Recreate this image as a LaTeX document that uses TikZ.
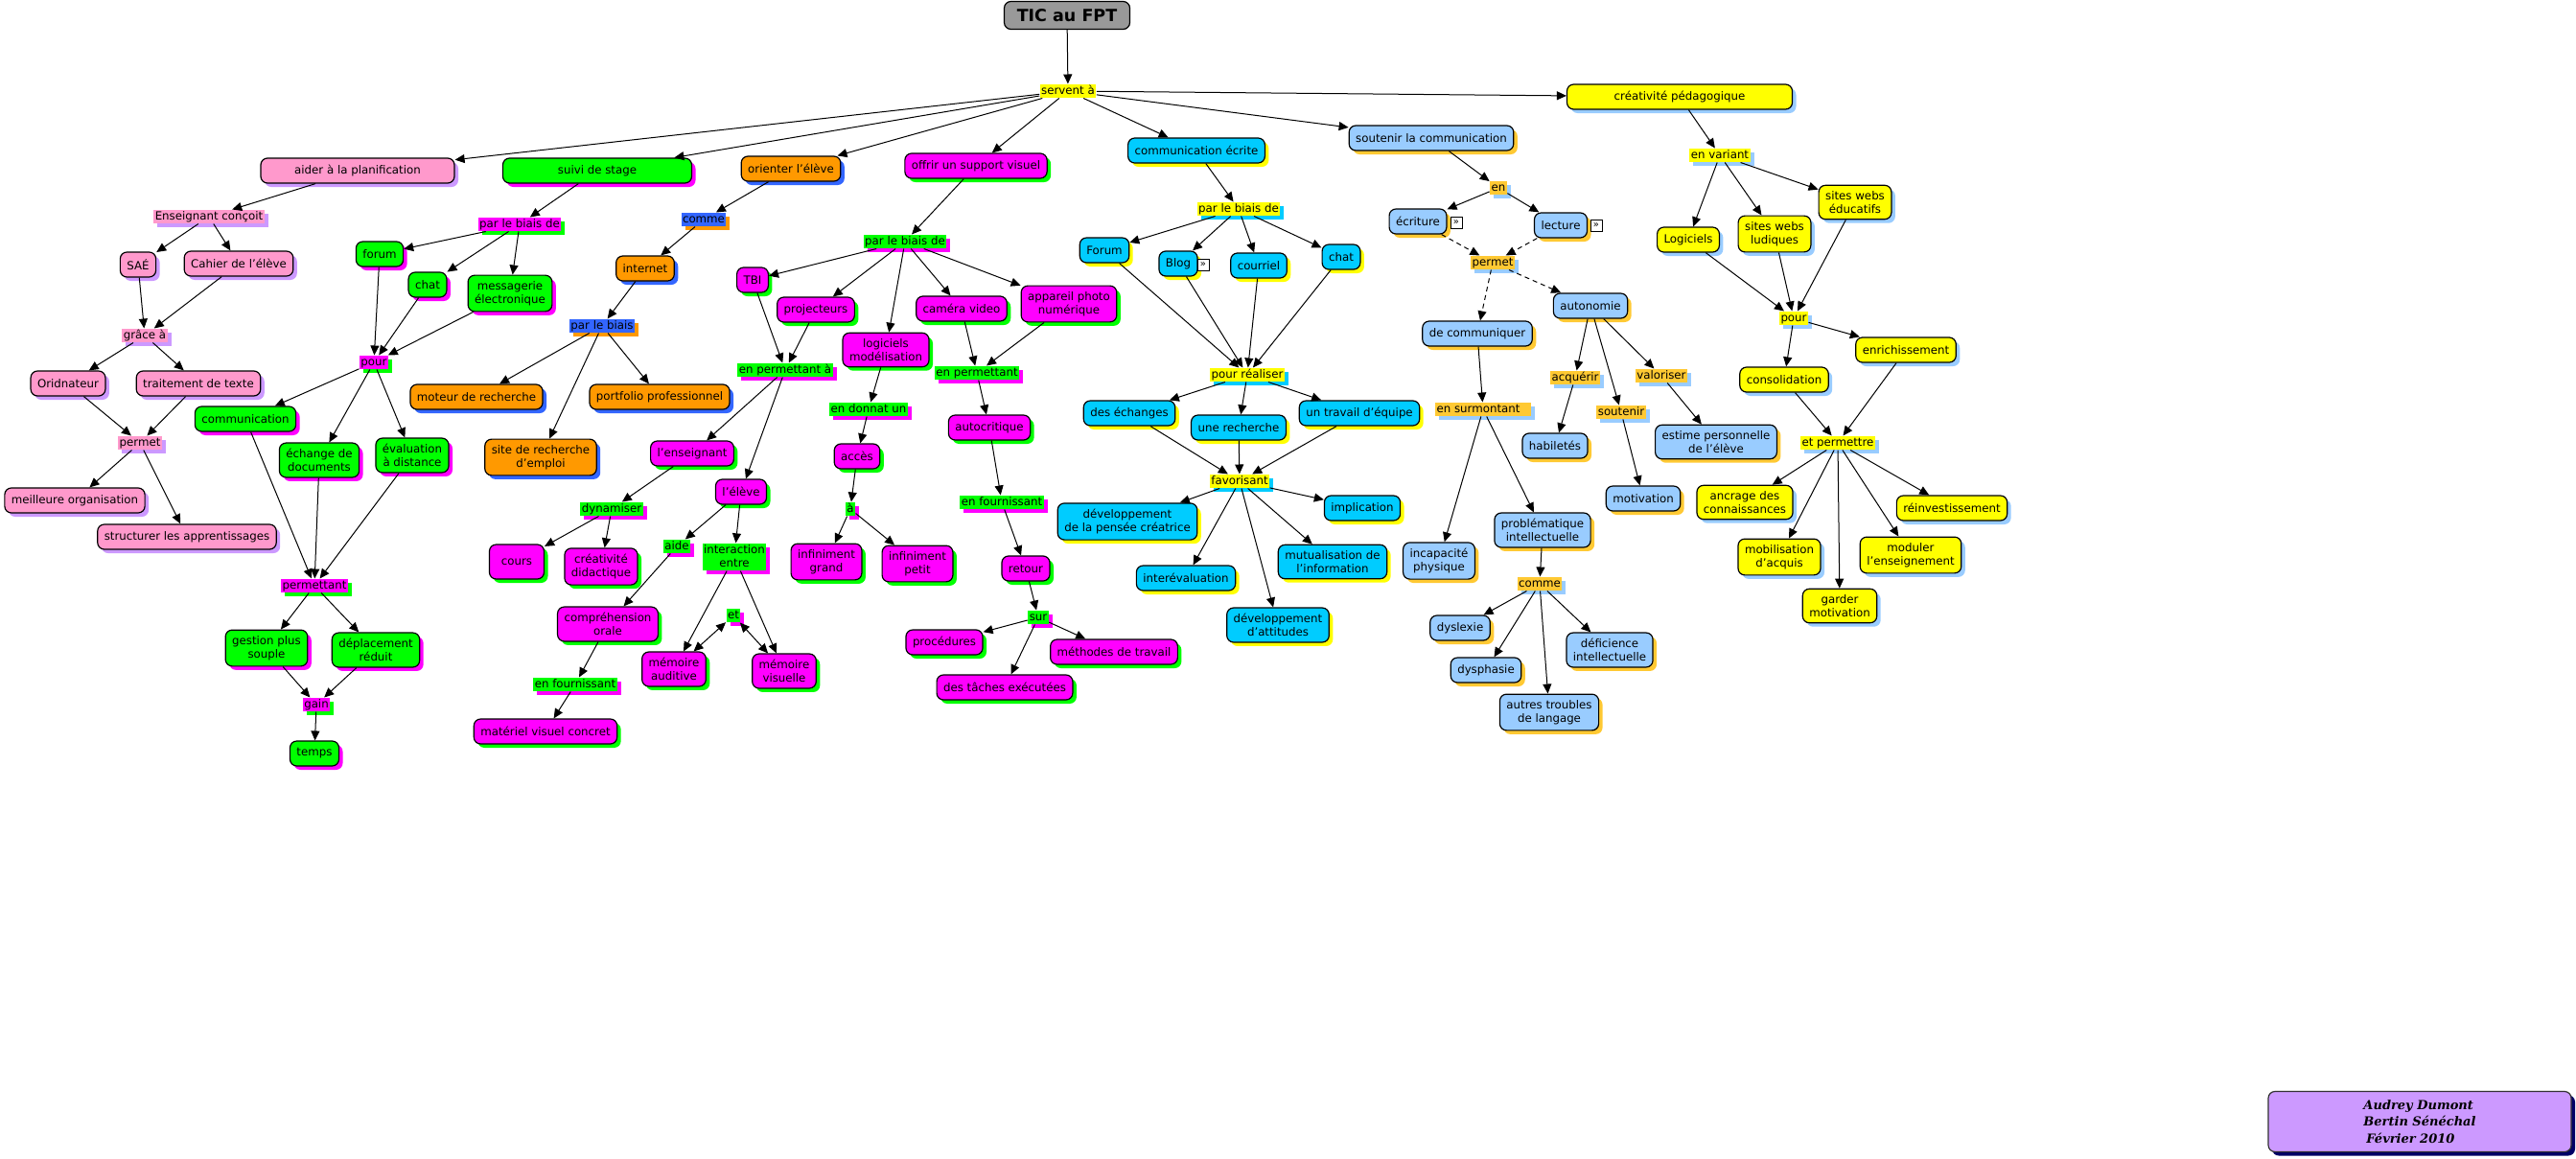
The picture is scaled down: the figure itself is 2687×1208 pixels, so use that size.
\documentclass[tikz,border=0pt]{standalone}
\usepackage{fontspec}
\setmainfont{DejaVu Sans}
\newfontfamily\creditfont{DejaVu Serif}
\usepackage{tikz}
\usetikzlibrary{arrows.meta, shadows}

\definecolor{pinkc}{HTML}{FF99CC}
\definecolor{lavc}{HTML}{CC99FF}
\definecolor{greenc}{HTML}{00FF00}
\definecolor{magc}{HTML}{FF00FF}
\definecolor{orangec}{HTML}{FF9900}
\definecolor{royalc}{HTML}{3366FF}
\definecolor{cyanc}{HTML}{00CCFF}
\definecolor{yellowc}{HTML}{FFFF00}
\definecolor{lbluec}{HTML}{99CCFF}
\definecolor{goldc}{HTML}{FFC933}
\definecolor{grayc}{HTML}{999999}
\definecolor{navyc}{HTML}{000066}

\tikzset{
  shad/.style={drop shadow={shadow xshift=4pt, shadow yshift=-4pt, fill=#1, opacity=1}},
  concept/.style={draw, line width=1.2pt, rounded corners=7pt, align=center,
                  inner xsep=7pt, inner ysep=6pt, minimum height=26pt},
  pk/.style={concept, fill=pinkc, shad=lavc},
  gr/.style={concept, fill=greenc, shad=magc},
  orn/.style={concept, fill=orangec, shad=royalc},
  mg/.style={concept, fill=magc, shad=greenc},
  cy/.style={concept, fill=cyanc, shad=yellowc},
  lb/.style={concept, fill=lbluec, shad=goldc},
  ye/.style={concept, fill=yellowc, shad=lbluec},
  link/.style={align=center, inner xsep=1.5pt, inner ysep=1pt,
               text height=9.5pt, text depth=2.5pt},
  lpk/.style={link, fill=pinkc, shad=lavc},
  lmg/.style={link, fill=magc, shad=greenc},
  lbl/.style={link, fill=royalc, shad=orangec},
  lgr/.style={link, fill=greenc, shad=magc},
  lye/.style={link, fill=yellowc, shad=cyanc},
  lgd/.style={link, fill=goldc, shad=lbluec},
  lyb/.style={link, fill=yellowc, shad=lbluec},
  res/.style={draw, line width=0.8pt, fill=white, inner sep=0pt,
              minimum width=12pt, minimum height=12pt, font=\fontsize{10}{10}\selectfont},
  dash link/.style={->, dash pattern=on 5pt off 4pt}
}

\begin{document}
\begin{tikzpicture}[x=1pt, y=-1pt, line width=1pt,
    font=\fontsize{11.8}{14.3}\selectfont,
    >={Triangle[length=10pt, width=9pt]}]
  \useasboundingbox (0,0) rectangle (2687,1208);

  % root
  \node[draw, line width=1.2pt, rounded corners=7pt, fill=grayc,
        minimum width=131pt, minimum height=29pt,
        font=\fontsize{17.5}{20}\selectfont\bfseries] (tic) at (1113,16) {TIC au FPT};
  \node[link, fill=yellowc] (servent) at (1114,95) {servent à};

  % planification
  \node[pk, minimum width=202pt] (plan) at (373,178) {aider à la planification};
  \node[lpk] (conc) at (218,226) {Enseignant conçoit};
  \node[pk] (sae) at (144,276) {SAÉ};
  \node[pk] (cahier) at (249,275) {Cahier de l'élève};
  \node[lpk] (grace) at (151,350) {grâce à};
  \node[pk] (ordi) at (71,400) {Oridnateur};
  \node[pk] (texte) at (207,400) {traitement de texte};
  \node[lpk] (permetA) at (146,462) {permet};
  \node[pk] (organis) at (78,522) {meilleure organisation};
  \node[pk] (structur) at (195,560) {structurer les apprentissages};

  % suivi de stage
  \node[gr, minimum width=197pt] (suivi) at (623,178) {suivi de stage};
  \node[lmg] (biaisA) at (542,234) {par le biais de};
  \node[gr] (forumA) at (396,265) {forum};
  \node[gr] (chatA) at (446,297) {chat};
  \node[gr] (messag) at (532,306) {messagerie\\électronique};
  \node[lmg] (pourA) at (390,378) {pour};
  \node[gr] (commun) at (256,437) {communication};
  \node[gr] (echdoc) at (333,480) {échange de\\documents};
  \node[gr] (evaldist) at (430,475) {évaluation\\à distance};
  \node[lmg] (permettant) at (328,611) {permettant};
  \node[gr] (gestion) at (278,676) {gestion plus\\souple};
  \node[gr] (deplac) at (392,678) {déplacement\\réduit};
  \node[lmg] (gain) at (330,735) {gain};
  \node[gr] (temps) at (328,786) {temps};

  % orienter
  \node[orn] (orient) at (825,176) {orienter l'élève};
  \node[lbl] (commeA) at (734,229) {comme};
  \node[orn] (internet) at (673,280) {internet};
  \node[lbl] (biaisB) at (628,340) {par le biais};
  \node[orn] (moteur) at (497,414) {moteur de recherche};
  \node[orn] (emploi) at (564,477) {site de recherche\\d'emploi};
  \node[orn] (portfolio) at (688,414) {portfolio professionnel};

  % support visuel
  \node[mg] (visuel) at (1018,173) {offrir un support visuel};
  \node[lgr] (biaisC) at (944,252) {par le biais de};
  \node[mg] (tbi) at (785,292) {TBI};
  \node[mg] (proj) at (851,323) {projecteurs};
  \node[mg] (modelis) at (924,365) {logiciels\\modélisation};
  \node[mg] (camera) at (1003,322) {caméra video};
  \node[mg] (photo) at (1115,317) {appareil photo\\numérique};
  \node[lgr] (permA) at (819,386) {en permettant à};
  \node[mg] (enseign) at (722,473) {l'enseignant};
  \node[lgr] (dynam) at (638,531) {dynamiser};
  \node[mg, minimum width=57pt, minimum height=36pt] (cours) at (539,586) {cours};
  \node[mg] (creadid) at (627,591) {créativité\\didactique};
  \node[mg] (eleve) at (773,513) {l'élève};
  \node[lgr] (aide) at (706,570) {aide};
  \node[lgr, text height=23.8pt, text depth=2.5pt] (interact) at (766,581) {interaction\\entre};
  \node[mg] (comprehen) at (634,651) {compréhension\\orale};
  \node[lgr] (fourniA) at (600,714) {en fournissant};
  \node[mg] (materiel) at (569,763) {matériel visuel concret};
  \node[lgr] (etA) at (765,642) {et};
  \node[mg] (auditive) at (703,698) {mémoire\\auditive};
  \node[mg] (visuelle) at (818,700) {mémoire\\visuelle};
  \node[lgr] (donnat) at (906,427) {en donnat un};
  \node[mg] (acces) at (894,476) {accès};
  \node[lgr] (aA) at (887,531) {à};
  \node[mg] (grand) at (862,586) {infiniment\\grand};
  \node[mg] (petit) at (957,588) {infiniment\\petit};
  \node[lgr] (permB) at (1019,389) {en permettant};
  \node[mg] (autocrit) at (1032,446) {autocritique};
  \node[lgr] (fourniB) at (1045,524) {en fournissant};
  \node[mg] (retour) at (1070,593) {retour};
  \node[lgr] (sur) at (1083,644) {sur};
  \node[mg] (proced) at (985,670) {procédures};
  \node[mg] (methodes) at (1162,680) {méthodes de travail};
  \node[mg] (taches) at (1048,717) {des tâches exécutées};

  % communication ecrite
  \node[cy] (ecrite) at (1248,157) {communication écrite};
  \node[lye] (biaisD) at (1292,218) {par le biais de};
  \node[cy] (forumB) at (1152,261) {Forum};
  \node[cy] (blog) at (1229,275) {Blog};
  \node[res] (blogres) at (1255,276) {»};
  \node[cy] (courriel) at (1313,277) {courriel};
  \node[cy] (chatB) at (1399,268) {chat};
  \node[lye] (realiser) at (1301,391) {pour réaliser};
  \node[cy] (echanges) at (1178,431) {des échanges};
  \node[cy] (recherche) at (1292,446) {une recherche};
  \node[cy] (equipe) at (1418,431) {un travail d'équipe};
  \node[lye] (favoris) at (1293,502) {favorisant};
  \node[cy] (pensee) at (1176,544) {développement\\de la pensée créatrice};
  \node[cy] (intereval) at (1237,603) {interévaluation};
  \node[cy] (attitudes) at (1333,652) {développement\\d'attitudes};
  \node[cy] (mutual) at (1390,586) {mutualisation de\\l'information};
  \node[cy] (implic) at (1421,530) {implication};

  % soutenir la communication
  \node[lb] (soutien) at (1493,144) {soutenir la communication};
  \node[lgd] (enA) at (1563,196) {en};
  \node[lb] (ecriture) at (1479,231) {écriture};
  \node[res] (ecrres) at (1519,232) {»};
  \node[lb] (lecture) at (1628,235) {lecture};
  \node[res] (lecres) at (1665,235) {»};
  \node[lgd] (permetB) at (1557,274) {permet};
  \node[lb] (autonom) at (1659,319) {autonomie};
  \node[lb] (communiq) at (1541,348) {de communiquer};
  \node[lgd] (acquerir) at (1643,394) {acquérir};
  \node[lgd] (soutL) at (1691,430) {soutenir};
  \node[lgd] (valoris) at (1733,392) {valoriser};
  \node[lb] (habil) at (1622,465) {habiletés};
  \node[lb] (motiv) at (1714,520) {motivation};
  \node[lb] (estime) at (1790,461) {estime personnelle\\de l'élève};
  \node[lgd] (surmont) at (1547,427) {en surmontant\hspace{10pt}};
  \node[lb] (incapac) at (1501,585) {incapacité\\physique};
  \node[lb] (problem) at (1609,553) {problématique\\intellectuelle};
  \node[lgd] (commeB) at (1606,609) {comme};
  \node[lb] (dyslex) at (1523,655) {dyslexie};
  \node[lb] (dysphas) at (1550,699) {dysphasie};
  \node[lb] (deficien) at (1679,678) {déficience\\intellectuelle};
  \node[lb] (troubles) at (1616,743) {autres troubles\\de langage};

  % creativite pedagogique
  \node[ye, minimum width=235pt] (creat) at (1752,101) {créativité pédagogique};
  \node[lyb] (variant) at (1794,162) {en variant};
  \node[ye] (logic) at (1761,250) {Logiciels};
  \node[ye] (ludiq) at (1851,244) {sites webs\\ludiques};
  \node[ye] (educat) at (1935,211) {sites webs\\éducatifs};
  \node[lyb] (pourB) at (1871,332) {pour};
  \node[ye] (consolid) at (1861,396) {consolidation};
  \node[ye] (enrich) at (1988,365) {enrichissement};
  \node[lyb] (etperm) at (1917,462) {et permettre};
  \node[ye] (ancrage) at (1820,524) {ancrage des\\connaissances};
  \node[ye] (mobilis) at (1856,581) {mobilisation\\d'acquis};
  \node[ye] (garder) at (1919,632) {garder\\motivation};
  \node[ye] (moduler) at (1993,579) {moduler\\l'enseignement};
  \node[ye] (reinvest) at (2036,530) {réinvestissement};

  % auteurs
  \node[draw=black!80, line width=1.2pt, rounded corners=7pt, fill=lavc, shad=navyc,
        minimum width=316pt, minimum height=63pt, align=left,
        font=\creditfont\fontsize{13}{17.5}\selectfont\bfseries\itshape] (credit)
        at (2524,1170) {Audrey Dumont\\Bertin Sénéchal\\\hspace{3pt}Février 2010};

  % liens
  \draw[->] (tic) -- (servent);
  \draw[->] (servent) -- (plan);
  \draw[->] (servent) -- (suivi);
  \draw[->] (servent) -- (orient);
  \draw[->] (servent) -- (visuel);
  \draw[->] (servent) -- (ecrite);
  \draw[->] (servent) -- (soutien);
  \draw[->] (servent) -- (creat);

  \draw[->] (plan) -- (conc);
  \draw[->] (conc) -- (sae);
  \draw[->] (conc) -- (cahier);
  \draw[->] (sae) -- (grace);
  \draw[->] (cahier) -- (grace);
  \draw[->] (grace) -- (ordi);
  \draw[->] (grace) -- (texte);
  \draw[->] (ordi) -- (permetA);
  \draw[->] (texte) -- (permetA);
  \draw[->] (permetA) -- (organis);
  \draw[->] (permetA) -- (structur);

  \draw[->] (suivi) -- (biaisA);
  \draw[->] (biaisA) -- (forumA);
  \draw[->] (biaisA) -- (chatA);
  \draw[->] (biaisA) -- (messag);
  \draw[->] (forumA) -- (pourA);
  \draw[->] (chatA) -- (pourA);
  \draw[->] (messag) -- (pourA);
  \draw[->] (pourA) -- (commun);
  \draw[->] (pourA) -- (echdoc);
  \draw[->] (pourA) -- (evaldist);
  \draw[->] (commun) -- (permettant);
  \draw[->] (echdoc) -- (permettant);
  \draw[->] (evaldist) -- (permettant);
  \draw[->] (permettant) -- (gestion);
  \draw[->] (permettant) -- (deplac);
  \draw[->] (gestion) -- (gain);
  \draw[->] (deplac) -- (gain);
  \draw[->] (gain) -- (temps);

  \draw[->] (orient) -- (commeA);
  \draw[->] (commeA) -- (internet);
  \draw[->] (internet) -- (biaisB);
  \draw[->] (biaisB) -- (moteur);
  \draw[->] (biaisB) -- (emploi);
  \draw[->] (biaisB) -- (portfolio);

  \draw[->] (visuel) -- (biaisC);
  \draw[->] (biaisC) -- (tbi);
  \draw[->] (biaisC) -- (proj);
  \draw[->] (biaisC) -- (modelis);
  \draw[->] (biaisC) -- (camera);
  \draw[->] (biaisC) -- (photo);
  \draw[->] (tbi) -- (permA);
  \draw[->] (proj) -- (permA);
  \draw[->] (permA) -- (enseign);
  \draw[->] (permA) -- (eleve);
  \draw[->] (enseign) -- (dynam);
  \draw[->] (dynam) -- (cours);
  \draw[->] (dynam) -- (creadid);
  \draw[->] (eleve) -- (aide);
  \draw[->] (eleve) -- (interact);
  \draw[->] (aide) -- (comprehen);
  \draw[->] (comprehen) -- (fourniA);
  \draw[->] (fourniA) -- (materiel);
  \draw[->] (interact) -- (auditive);
  \draw[->] (interact) -- (visuelle);
  \draw[<->] (auditive) -- (etA);
  \draw[<->] (etA) -- (visuelle);
  \draw[->] (modelis) -- (donnat);
  \draw[->] (donnat) -- (acces);
  \draw[->] (acces) -- (aA);
  \draw[->] (aA) -- (grand);
  \draw[->] (aA) -- (petit);
  \draw[->] (camera) -- (permB);
  \draw[->] (photo) -- (permB);
  \draw[->] (permB) -- (autocrit);
  \draw[->] (autocrit) -- (fourniB);
  \draw[->] (fourniB) -- (retour);
  \draw[->] (retour) -- (sur);
  \draw[->] (sur) -- (proced);
  \draw[->] (sur) -- (methodes);
  \draw[->] (sur) -- (taches);

  \draw[->] (ecrite) -- (biaisD);
  \draw[->] (biaisD) -- (forumB);
  \draw[->] (biaisD) -- (blog);
  \draw[->] (biaisD) -- (courriel);
  \draw[->] (biaisD) -- (chatB);
  \draw[->] (forumB) -- (realiser);
  \draw[->] (blog) -- (realiser);
  \draw[->] (courriel) -- (realiser);
  \draw[->] (chatB) -- (realiser);
  \draw[->] (realiser) -- (echanges);
  \draw[->] (realiser) -- (recherche);
  \draw[->] (realiser) -- (equipe);
  \draw[->] (echanges) -- (favoris);
  \draw[->] (recherche) -- (favoris);
  \draw[->] (equipe) -- (favoris);
  \draw[->] (favoris) -- (pensee);
  \draw[->] (favoris) -- (intereval);
  \draw[->] (favoris) -- (attitudes);
  \draw[->] (favoris) -- (mutual);
  \draw[->] (favoris) -- (implic);

  \draw[->] (soutien) -- (enA);
  \draw[->] (enA) -- (ecriture);
  \draw[->] (enA) -- (lecture);
  \draw[dash link] (ecriture) -- (permetB);
  \draw[dash link] (lecture) -- (permetB);
  \draw[dash link] (permetB) -- (communiq);
  \draw[dash link] (permetB) -- (autonom);
  \draw[->] (autonom) -- (acquerir);
  \draw[->] (autonom) -- (soutL);
  \draw[->] (autonom) -- (valoris);
  \draw[->] (acquerir) -- (habil);
  \draw[->] (soutL) -- (motiv);
  \draw[->] (valoris) -- (estime);
  \draw[->] (communiq) -- (surmont);
  \draw[->] (surmont) -- (incapac);
  \draw[->] (surmont) -- (problem);
  \draw[->] (problem) -- (commeB);
  \draw[->] (commeB) -- (dyslex);
  \draw[->] (commeB) -- (dysphas);
  \draw[->] (commeB) -- (troubles);
  \draw[->] (commeB) -- (deficien);

  \draw[->] (creat) -- (variant);
  \draw[->] (variant) -- (logic);
  \draw[->] (variant) -- (ludiq);
  \draw[->] (variant) -- (educat);
  \draw[->] (logic) -- (pourB);
  \draw[->] (ludiq) -- (pourB);
  \draw[->] (educat) -- (pourB);
  \draw[->] (pourB) -- (consolid);
  \draw[->] (pourB) -- (enrich);
  \draw[->] (consolid) -- (etperm);
  \draw[->] (enrich) -- (etperm);
  \draw[->] (etperm) -- (ancrage);
  \draw[->] (etperm) -- (mobilis);
  \draw[->] (etperm) -- (garder);
  \draw[->] (etperm) -- (moduler);
  \draw[->] (etperm) -- (reinvest);
\end{tikzpicture}
\end{document}
